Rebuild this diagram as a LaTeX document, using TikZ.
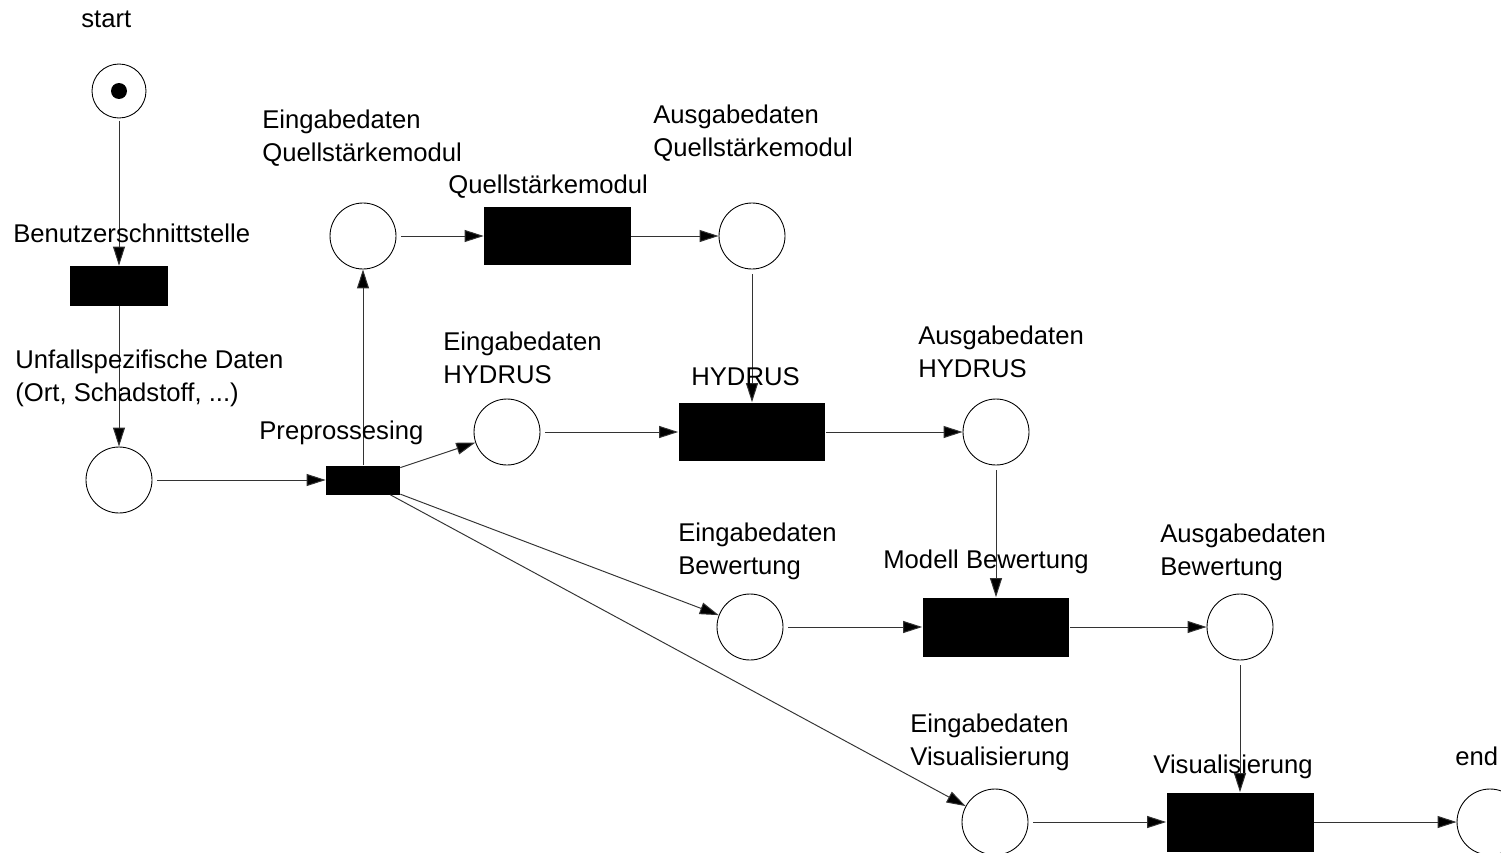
\documentclass[tikz,border=0pt]{standalone}
\usepackage{fontspec}
\setmainfont{Liberation Sans}
\usetikzlibrary{arrows.meta}
\begin{document}
\begin{tikzpicture}[x=0.02cm,y=-0.02cm,
  place/.style={circle,draw,line width=0.5pt,minimum size=1.32cm,inner sep=0pt},
  token/.style={circle,fill=black,minimum size=0.32cm,inner sep=0pt},
  trans/.style={rectangle,fill=black,inner sep=0pt,minimum width=2.94cm,minimum height=1.18cm},
  arc/.style={draw=black!80,line width=0.55pt,-{Triangle[length=0.38cm,width=0.24cm,fill=black]}},
  gap/.style={shorten <=0.1cm},
  lbl/.style={anchor=base west,inner sep=0pt,font=\fontsize{14.6}{17}\selectfont}]
\useasboundingbox (0,0) rectangle (1501,852);

% places
\node[place,minimum size=1.08cm] (P0) at (119,91) {};
\node[token] (tok) at (119,91) {};
\node[place] (P1) at (119,480) {};
\node[place] (P2) at (363,236) {};
\node[place] (P3) at (752,236) {};
\node[place] (P4) at (507,432) {};
\node[place] (P5) at (996,432) {};
\node[place] (P6) at (750,627) {};
\node[place] (P7) at (1240,627) {};
\node[place] (P8) at (995,822) {};
\node[place] (P9) at (1490,822) {};

% transitions
\node[trans,minimum width=1.96cm,minimum height=0.8cm] (T1) at (119,286) {};
\node[trans,minimum width=1.48cm,minimum height=0.58cm] (T2) at (363,480) {};
\node[trans] (T3) at (557.5,236) {};
\node[trans] (T4) at (752,432) {};
\node[trans] (T5) at (996,627) {};
\node[trans] (T6) at (1240,822) {};

% arcs
\draw[arc,shorten <=0.05cm] (P0) -- (T1);
\draw[arc] (T1) -- (P1);
\draw[arc,gap] (P1) -- (T2);
\draw[arc] (T2) -- (P2);
\draw[arc] (T2) -- (P4);
\draw[arc] (T2) -- (P6);
\draw[arc] (T2) -- (P8);
\draw[arc,gap] (P2) -- (T3);
\draw[arc] (T3) -- (P3);
\draw[arc,gap] (P3) -- (T4);
\draw[arc,gap] (P4) -- (T4);
\draw[arc] (T4) -- (P5);
\draw[arc,gap] (P5) -- (T5);
\draw[arc,gap] (P6) -- (T5);
\draw[arc] (T5) -- (P7);
\draw[arc,gap] (P7) -- (T6);
\draw[arc,gap] (P8) -- (T6);
\draw[arc] (T6) -- (P9);

% labels
\node[lbl] (L0) at (81,28) {start};
\node[lbl] (L2a) at (262,128) {Eingabedaten};
\node[lbl] (L2b) at (262,161) {Quellstärkemodul};
\node[lbl] (L3a) at (653,123) {Ausgabedaten};
\node[lbl] (L3b) at (653,156) {Quellstärkemodul};
\node[lbl] (LT3) at (448,193) {Quellstärkemodul};
\node[lbl] (LT1) at (13,242) {Benutzerschnittstelle};
\node[lbl] (L1a) at (15,368) {Unfallspezifische Daten};
\node[lbl] (L1b) at (15,401) {(Ort, Schadstoff, ...)};
\node[lbl] (LT2) at (259,439) {Preprossesing};
\node[lbl] (L4a) at (443,350) {Eingabedaten};
\node[lbl] (L4b) at (443,383) {HYDRUS};
\node[lbl] (LT4) at (691,385) {HYDRUS};
\node[lbl] (L5a) at (918,344) {Ausgabedaten};
\node[lbl] (L5b) at (918,377) {HYDRUS};
\node[lbl] (L6a) at (678,541) {Eingabedaten};
\node[lbl] (L6b) at (678,574) {Bewertung};
\node[lbl] (LT5) at (883,568) {Modell Bewertung};
\node[lbl] (L7a) at (1160,542) {Ausgabedaten};
\node[lbl] (L7b) at (1160,575) {Bewertung};
\node[lbl] (L8a) at (910,732) {Eingabedaten};
\node[lbl] (L8b) at (910,765) {Visualisierung};
\node[lbl] (LT6) at (1153,773) {Visualisierung};
\node[lbl] (L9) at (1455,765) {end};
\end{tikzpicture}
\end{document}
